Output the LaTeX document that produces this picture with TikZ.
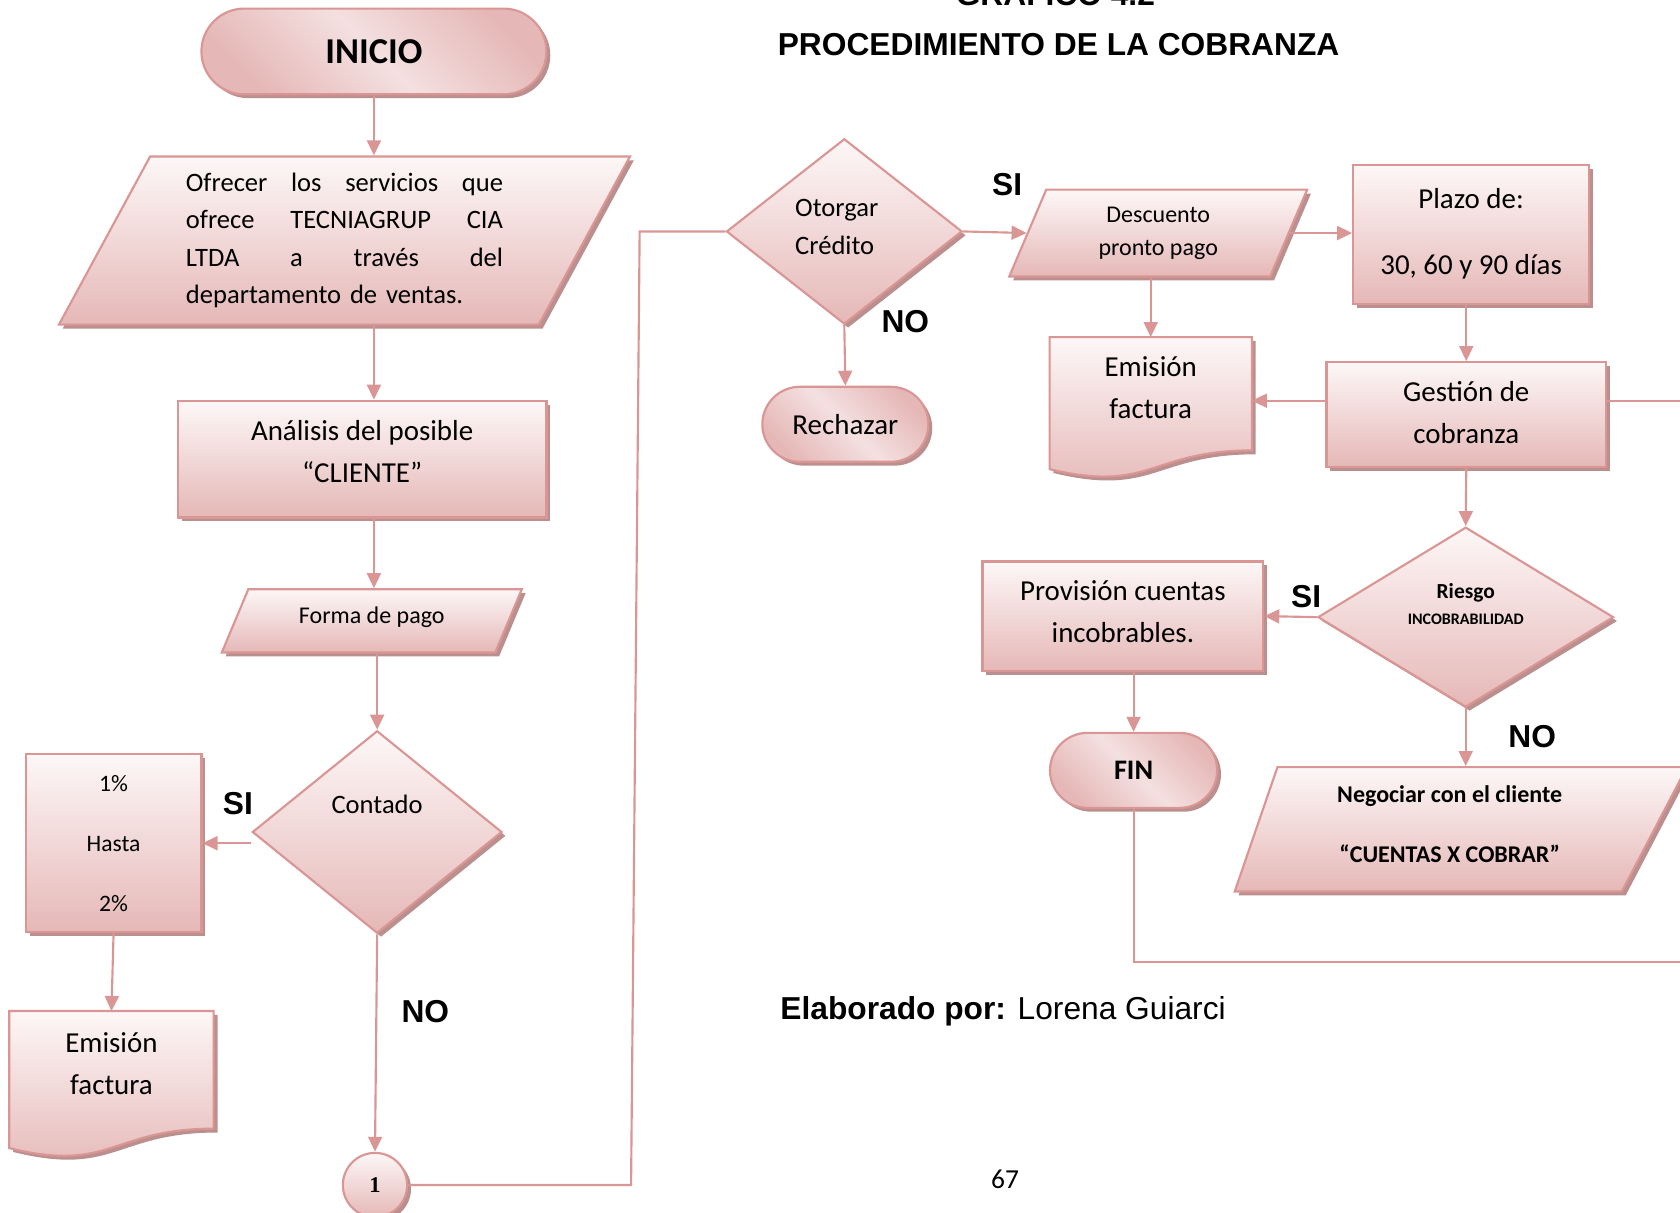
\documentclass[tikz,border=0pt]{standalone}
\usepackage{fontspec}
\setmainfont{Carlito}
\newfontfamily\arialfont{Liberation Sans}
\newfontfamily\timesfont{Liberation Serif}
\usetikzlibrary{shapes.geometric, shapes.misc, arrows.meta, shadows, calc, backgrounds}

\definecolor{linec}{RGB}{217,150,148}
\definecolor{topc}{RGB}{253,247,247}
\definecolor{botc}{RGB}{229,184,183}
\definecolor{midc}{RGB}{244,224,224}
\definecolor{shadowc}{RGB}{186,143,142}

\newcommand{\fsize}[2]{\fontsize{#1pt}{#2pt}\selectfont}

\tikzset{
x=0.5pt, y=-0.5pt, % one unit is one pixel of the scan, y runs downwards
conn/.style={draw=linec, line width=1pt}, % plain connector
arr/.style={conn, -{Triangle[length=7pt, width=6.5pt]}}, % connector with a head
box/.style={draw=linec, line width=1pt, top color=topc, bottom color=botc,
  drop shadow={shadow xshift=1.8pt, shadow yshift=-1.8pt, fill=shadowc, opacity=1},
  inner sep=0pt, align=center, font=\fsize{13.5}{19.5}}, % every shape
proc/.style={box, rectangle},
io/.style={box, trapezium, trapezium stretches body=true},
decision/.style={box, diamond},
term/.style={box, rounded rectangle, top color=botc, bottom color=botc, middle color=midc, shading angle=-45},
docbox/.style={rectangle, inner sep=0pt, align=center, font=\fsize{13.5}{19.5}}, % text part of a document
docpath/.style={insert path={(#1.north west) -- (#1.north east) -- (#1.south east)
  .. controls (#1.south) and ($(#1.north)!1.38!(#1.south)$) .. ($(#1.north west)!1.165!(#1.south west)$) -- cycle}},
yesno/.style={font=\arialfont\bfseries\fsize{14.8}{17}, inner sep=0pt}, % SI / NO
}

\begin{document}
\begin{tikzpicture}
\useasboundingbox (0,0) rectangle (1568,1132);
\clip (0,0) rectangle (1568,1132);

% heading
\node[yesno, anchor=base] (grafico) at (985,5) {GRÁFICO 4.2};
\node[yesno] (titulo) at (988,42) {PROCEDIMIENTO DE LA COBRANZA};

% left column
\node[term, minimum width=161pt, minimum height=40pt, font=\bfseries\fsize{17}{20}] (inicio) at (349,48) {INICIO};
\node[io, trapezium left angle=56, trapezium right angle=124, minimum width=266.5pt, minimum height=78.5pt,
  text width=148pt, align=left, font=\fsize{12.4}{17.5}] (ofrecer) at (321.5,224.5)
  {Ofrecer\hfill los\hfill servicios\hfill que\\ ofrece\hfill TECNIAGRUP\hfill CIA\\ LTDA\hfill a\hfill través\hfill del\\ departamento de ventas.};
\node[proc, minimum width=172pt, minimum height=54.5pt, text depth=7pt] (analisis) at (338,428.5) {Análisis del posible\\“CLIENTE”};
\node[io, trapezium left angle=47, trapezium right angle=133, minimum width=140pt, minimum height=29.5pt,
  text depth=5.5pt, font=\fsize{11.2}{14}] (forma) at (347,579.5) {Forma de pago};
\node[decision, minimum width=116.5pt, minimum height=94.5pt] (contado) at (352,776.5) {};
\node[font=\fsize{12.4}{15}, inner sep=0pt] (contado-t) at ([yshift=13pt]contado.center) {Contado};
\node[proc, minimum width=82pt, minimum height=83pt, font=\fsize{11}{28}] (pct) at (106,787) {1\%\\Hasta\\2\%};
\node[docbox, minimum width=95pt, minimum height=54.5pt, text depth=6pt] (emis1) at (104,998.5) {Emisión\\factura};
\node[box, circle, minimum size=30pt, font=\timesfont\bfseries\fsize{10.5}{12}] (uno) at (350,1106) {1};

% right part
\node[decision, minimum width=110pt, minimum height=86.5pt] (otorgar) at (788,216) {};
\node[align=left, inner sep=0pt, font=\fsize{12.4}{17.5}] (otorgar-t) at ([xshift=-3.5pt, yshift=2pt]otorgar.center) {Otorgar\\Crédito};
\node[term, minimum width=77.5pt, minimum height=35pt] (rechazar) at (789,396) {Rechazar};
\node[io, trapezium left angle=55, trapezium right angle=125, minimum width=139pt, minimum height=40.5pt,
  font=\fsize{11.2}{15.5}] (desc) at (1081,217.5) {Descuento\\pronto pago};
\node[proc, minimum width=110pt, minimum height=65pt, text depth=3pt] (plazo) at (1373,219) {Plazo de:\\[11.5pt]30, 60 y 90 días};
\node[docbox, minimum width=94pt, minimum height=52.5pt, text depth=5.5pt] (emis2) at (1074,367.5) {Emisión\\factura};
\node[proc, minimum width=130.5pt, minimum height=49pt, text depth=2pt] (gestion) at (1368.5,387) {Gestión de\\cobranza};
\node[decision, minimum width=138pt, minimum height=84pt] (riesgo) at (1368,576) {};
\node[align=center, inner sep=0pt, font=\bfseries\fsize{10}{12}] (riesgo-t) at ([yshift=6pt]riesgo.center)
  {Riesgo\\{\fsize{7.5}{12}INCOBRABILIDAD}};
\node[proc, minimum width=131pt, minimum height=51pt, text depth=4pt] (provision) at (1048,575) {Provisión cuentas\\incobrables.};
\node[term, minimum width=78pt, minimum height=35pt, font=\bfseries\fsize{13.2}{16}] (fin) at (1058,719) {FIN};
\node[io, trapezium left angle=64, trapezium right angle=126.6, minimum width=211pt, minimum height=58pt,
  text depth=5pt, font=\bfseries\fsize{11.2}{28}] (negociar) at (1353,774) {Negociar con el cliente\\“CUENTAS X COBRAR”};

% document shapes
\begin{pgfonlayer}{background}
\foreach \d in {emis1, emis2}
  \shadedraw[draw=linec, line width=1pt, top color=topc, bottom color=botc,
    drop shadow={shadow xshift=1.8pt, shadow yshift=-1.8pt, fill=shadowc, opacity=1}, docpath=\d];
\end{pgfonlayer}

% SI / NO
\node[yesno] (si-1) at (222,750) {SI};
\node[yesno] (no-1) at (397,944) {NO};
\node[yesno] (si-2) at (940,172) {SI};
\node[yesno] (no-2) at (845,300) {NO};
\node[yesno] (si-3) at (1219,557) {SI};
\node[yesno] (no-3) at (1430,687) {NO};

\node[font=\arialfont\fsize{14.8}{17}, anchor=west, inner sep=0pt] (autor) at (728,944) {\textbf{Elaborado por:} Lorena Guiarci};
\node[font=\fsize{12.8}{15}] (pagina) at (938,1101) {67};

% connectors
\draw[arr] (inicio.south) -- (inicio.south |- ofrecer.north);
\draw[arr] (ofrecer.south -| inicio.south) -- (analisis.north -| inicio.south);
\draw[arr] (analisis.south -| inicio.south) -- (forma.north -| inicio.south);
\draw[arr] (forma.south -| contado.north) -- (contado.north);
\draw[arr] (contado.west |- pct.east) -- (pct.east);
\draw[arr] (pct.south) -- (emis1.north);
\draw[arr] (contado.south) -- (uno.north);
\draw[conn] (uno.east) -- ++(208,0) -- ([xshift=-40pt]otorgar.west) -- (otorgar.west);
\draw[arr] (otorgar.east) -- (desc.west);
\draw[arr] (otorgar.south) -- (rechazar.north);
\draw[arr] (desc.east) -- (desc.east -| plazo.west);
\draw[arr] (emis2.north |- desc.south) -- (emis2.north);
\draw[arr] (gestion.north |- plazo.south) -- (gestion.north);
\draw[arr] ([yshift=6.5pt]gestion.west) -- ([yshift=6.5pt]gestion.west -| emis2.east);
\coordinate (gsal) at (1575,374);
\draw[conn] ([yshift=6.5pt]gestion.east) -- (gsal);
\draw[arr] (gestion.south) -- (riesgo.north);
\draw[arr] (riesgo.west) -- (provision.east);
\draw[arr] (provision.south -| fin.north) -- (fin.north);
\draw[arr] (riesgo.south) -- (riesgo.south |- negociar.north);
\coordinate (fsal) at (1575,898);
\draw[conn] (fin.south) |- (fsal);
\end{tikzpicture}
\end{document}
